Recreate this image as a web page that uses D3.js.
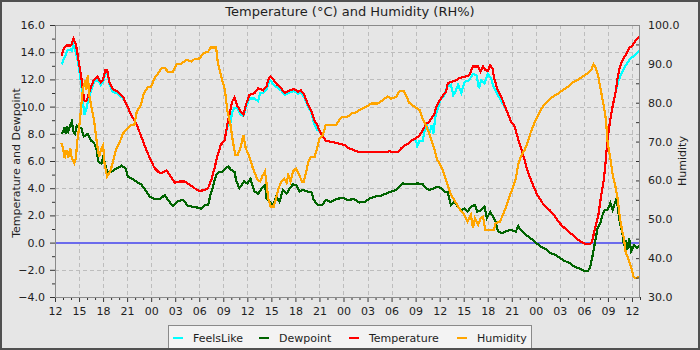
<!DOCTYPE html>
<html>
<head>
<meta charset="utf-8">
<script src="https://cdn.jsdelivr.net/npm/d3@7"></script>
<style>
  html, body { margin: 0; padding: 0; background: #e6e6e6; }
  svg { display: block; font-family: "DejaVu Sans", sans-serif; }
</style>
</head>
<body>
<svg id="chart" width="700" height="350"></svg>
<script>
// Hours are counted from 12:00 on the first day; values are [hour, reading].
const hourTicks = d3.range(0, 73, 3);
const tempTicks = d3.range(-4, 17, 2);
const humidityTicks = d3.range(30, 101, 10);
const seriesNames = ["FeelsLike", "Dewpoint", "Temperature", "Humidity"];

const temperature = [[0.8,13.75],[1.2,14.4],[1.5,14.5],[1.9,14.5],[2.1,14.6],[2.3,15.0],[2.6,14.6],[2.8,13.9],[3.1,12.8],[3.3,12.1],[3.5,11.1],[3.7,10.4],[3.9,10.4],[4.1,10.7],[4.5,11.5],[4.9,12.0],[5.3,12.2],[5.7,11.8],[6.0,12.0],[6.3,12.7],[6.5,12.7],[6.8,11.8],[7.2,11.3],[7.85,11.1],[8.5,10.7],[8.9,10.2],[9.5,9.4],[10.1,8.8],[10.7,7.9],[11.4,6.8],[12.0,6.0],[12.4,5.5],[12.9,5.2],[13.3,5.1],[13.9,5.3],[14.3,5.0],[14.95,4.4],[15.6,4.5],[16.2,4.5],[16.8,4.25],[17.4,4.0],[18.05,3.8],[18.7,3.87],[19.1,4.0],[19.5,4.6],[19.9,5.46],[20.3,6.44],[20.7,7.2],[21.15,7.5],[21.5,8.65],[21.8,9.5],[22.1,10.36],[22.4,10.66],[22.7,10.1],[23.2,9.6],[23.5,9.4],[23.8,10.1],[24.25,10.85],[24.9,11.0],[25.35,11.35],[25.97,11.2],[26.4,11.5],[26.7,12.1],[26.9,12.2],[27.3,11.95],[27.75,11.6],[28.2,11.35],[28.7,11.0],[29.3,11.2],[29.8,11.3],[30.3,11.1],[30.7,11.2],[31.1,10.85],[31.5,10.24],[31.96,9.7],[32.3,9.1],[32.7,8.65],[33.1,8.15],[33.4,7.8],[33.8,7.5],[34.4,7.42],[35.3,7.3],[36.1,7.18],[36.7,6.93],[37.3,6.8],[38.0,6.64],[41.5,6.64],[41.75,6.73],[42.2,6.64],[42.8,6.64],[43.2,6.93],[43.6,7.13],[44.1,7.3],[44.6,7.54],[45.05,7.67],[45.5,7.9],[45.9,8.28],[46.3,8.7],[46.7,8.9],[47.3,9.4],[47.65,10.1],[47.95,10.4],[48.4,10.8],[48.8,11.1],[49.0,11.7],[49.4,11.8],[49.9,11.9],[50.5,12.1],[51.1,12.2],[51.7,12.3],[52.15,12.95],[52.8,12.95],[53.1,12.6],[53.4,12.95],[53.7,12.7],[54.0,12.6],[54.3,13.05],[54.6,12.8],[54.8,12.1],[55.25,11.2],[55.7,10.7],[56.1,10.1],[56.5,9.5],[56.9,8.9],[57.3,8.65],[57.7,7.8],[58.1,7.05],[58.6,6.07],[59.0,5.2],[59.4,4.6],[59.8,4.0],[60.2,3.5],[60.6,3.13],[61.0,2.76],[61.7,2.4],[62.3,2.0],[62.8,1.54],[63.4,1.17],[64.0,0.85],[64.6,0.56],[65.2,0.24],[65.85,0.0],[66.3,-0.13],[66.7,-0.13],[67.0,0.07],[67.2,0.56],[67.5,1.3],[67.8,2.0],[68.1,3.25],[68.5,4.7],[68.75,6.2],[68.95,7.67],[69.2,8.65],[69.45,9.6],[69.7,10.36],[70.0,11.2],[70.2,12.1],[70.5,12.95],[70.8,13.4],[71.2,13.8],[71.65,14.3],[72.05,14.5],[72.5,14.9],[72.9,15.15]];

const feelsLike = [[0.8,13.1],[1.2,13.6],[1.5,14.1],[1.9,14.2],[2.1,14.1],[2.3,14.5],[2.6,14.0],[2.8,13.5],[3.1,12.4],[3.3,11.5],[3.5,10.2],[3.7,9.4],[3.9,9.8],[4.1,10.3],[4.5,11.2],[4.9,11.8],[5.3,12.0],[5.7,11.6],[6.0,11.8],[6.3,12.5],[6.5,12.5],[6.8,11.6],[7.2,11.1],[7.85,10.95],[8.5,10.6],[8.9,10.2],[9.5,9.4],[10.1,8.8],[10.7,7.9],[11.4,6.8],[12.0,6.0],[12.4,5.5],[12.9,5.2],[13.3,5.1],[13.9,5.3],[14.3,5.0],[14.95,4.4],[15.6,4.5],[16.2,4.5],[16.8,4.25],[17.4,4.0],[18.05,3.8],[18.7,3.87],[19.1,4.0],[19.5,4.6],[19.9,5.46],[20.3,6.44],[20.7,7.2],[21.15,7.5],[21.5,8.5],[21.9,8.8],[22.1,9.6],[22.4,9.9],[22.7,9.9],[23.2,9.4],[23.5,9.3],[23.8,9.9],[24.25,10.6],[24.9,10.6],[25.35,10.4],[25.6,11.0],[25.97,11.0],[26.4,11.3],[26.7,11.8],[26.9,11.9],[27.3,11.6],[27.75,11.4],[28.2,11.2],[28.7,10.85],[29.3,11.05],[29.8,11.15],[30.3,10.95],[30.7,11.05],[31.1,10.7],[31.5,10.1],[31.96,9.6],[32.3,8.8],[32.7,8.3],[33.1,8.15],[33.4,7.8],[33.8,7.5],[34.4,7.42],[35.3,7.3],[36.1,7.18],[36.7,6.93],[37.3,6.8],[38.0,6.64],[41.5,6.64],[41.75,6.73],[42.2,6.64],[42.8,6.64],[43.2,6.93],[43.6,7.13],[44.1,7.3],[44.6,7.54],[45.05,7.5],[45.2,7.1],[45.5,7.5],[45.9,7.5],[46.1,8.15],[46.4,8.6],[46.7,8.0],[47.0,8.65],[47.2,8.0],[47.5,9.4],[47.8,9.9],[48.1,10.5],[48.6,10.85],[48.9,11.45],[49.4,11.6],[49.7,10.85],[49.9,11.0],[50.3,11.6],[50.7,11.0],[51.1,11.8],[51.7,11.95],[52.15,12.4],[52.6,12.3],[52.9,11.35],[53.2,11.95],[53.6,11.7],[54.0,12.4],[54.4,12.1],[54.8,11.35],[55.25,10.85],[55.7,10.4],[56.1,10.0],[56.5,9.5],[56.9,8.9],[57.3,8.65],[57.7,7.8],[58.1,7.05],[58.6,6.07],[59.0,5.2],[59.4,4.6],[59.8,4.0],[60.2,3.5],[60.6,3.13],[61.0,2.76],[61.7,2.4],[62.3,2.0],[62.8,1.54],[63.4,1.17],[64.0,0.85],[64.6,0.56],[65.2,0.24],[65.85,0.0],[66.3,-0.13],[66.7,-0.13],[67.0,0.07],[67.2,0.56],[67.5,1.3],[67.8,2.0],[68.1,3.25],[68.5,4.7],[68.75,6.2],[68.95,7.67],[69.2,8.65],[69.45,9.6],[69.7,10.36],[70.0,11.2],[70.3,11.9],[70.6,12.3],[71.0,12.8],[71.4,13.2],[71.8,13.55],[72.25,13.7],[72.9,14.1]];

const dewpoint = [[0.8,8.0],[1.0,8.15],[1.2,8.5],[1.35,8.0],[1.5,8.4],[1.65,8.15],[1.9,8.6],[2.1,8.9],[2.3,8.15],[2.5,8.0],[2.7,8.6],[2.9,8.5],[3.3,8.4],[3.6,7.8],[4.1,8.0],[4.5,7.5],[4.9,7.3],[5.2,6.8],[5.4,5.95],[5.8,5.8],[6.0,6.25],[6.2,5.95],[6.5,5.2],[7.0,5.2],[7.4,5.35],[7.85,5.5],[8.3,5.65],[8.8,5.45],[9.1,4.85],[9.6,4.7],[10.1,4.5],[10.8,4.25],[11.2,3.95],[11.8,3.4],[12.4,3.2],[13.1,3.2],[13.7,3.5],[14.1,3.13],[14.7,2.7],[15.4,3.06],[16.0,3.13],[16.6,2.7],[17.2,2.64],[17.8,2.57],[18.25,2.5],[18.7,2.76],[19.1,2.76],[19.4,3.5],[19.7,4.1],[20.1,4.97],[20.5,5.2],[20.9,5.2],[21.35,5.5],[21.6,5.6],[22.0,5.34],[22.4,5.2],[22.6,4.6],[23.0,4.0],[23.3,4.24],[23.6,4.5],[24.0,4.36],[24.4,4.68],[24.9,3.75],[25.35,3.6],[25.8,4.0],[26.2,4.25],[26.4,3.25],[26.8,3.0],[27.2,2.76],[27.6,3.38],[28.0,3.0],[28.45,3.87],[28.9,3.6],[29.3,4.0],[29.7,4.28],[30.1,4.24],[30.5,3.75],[30.9,3.87],[31.5,3.75],[31.96,3.75],[32.3,3.13],[32.8,2.76],[33.4,2.8],[33.8,3.13],[34.4,3.0],[35.1,3.2],[35.9,3.3],[36.5,3.13],[37.3,3.2],[38.0,2.95],[38.65,3.0],[39.3,3.25],[39.9,3.38],[40.7,3.45],[41.3,3.6],[41.95,3.75],[42.6,3.87],[43.0,4.1],[43.4,4.36],[44.0,4.28],[44.6,4.28],[45.3,4.36],[45.9,4.28],[46.3,4.0],[46.7,3.87],[47.3,4.0],[47.7,4.1],[48.2,4.0],[48.6,3.75],[49.0,3.75],[49.4,2.76],[49.8,3.0],[50.3,2.64],[50.7,2.4],[51.1,2.5],[51.5,2.3],[51.95,2.64],[52.4,2.76],[52.7,2.27],[53.2,2.4],[53.6,2.64],[53.9,1.8],[54.3,2.27],[54.75,1.8],[55.0,1.54],[55.25,0.85],[55.7,0.68],[56.3,0.85],[56.9,0.93],[57.5,0.8],[57.8,1.22],[58.1,0.93],[58.8,0.56],[59.4,0.3],[60.0,0.0],[60.6,-0.3],[61.2,-0.47],[61.9,-0.8],[62.35,-0.86],[62.95,-1.1],[63.6,-1.35],[64.2,-1.5],[64.8,-1.77],[65.45,-1.9],[66.1,-2.1],[66.5,-2.1],[66.8,-1.77],[67.1,-0.9],[67.4,0.07],[67.7,1.05],[68.05,1.4],[68.3,2.0],[68.6,2.4],[68.95,2.4],[69.3,2.9],[69.6,2.4],[69.9,3.0],[70.1,3.25],[70.3,2.27],[70.5,1.4],[70.8,0.68],[71.0,-0.2],[71.2,0.2],[71.4,-0.55],[71.65,0.3],[71.9,-0.65],[72.25,-0.2],[72.6,-0.4],[72.9,-0.2]];

const humidity = [[0.8,69.6],[1.0,68.5],[1.2,65.7],[1.45,67.8],[1.65,65.7],[1.9,68.3],[2.1,65.7],[2.4,64.4],[2.6,65.7],[2.8,70.4],[3.1,75.1],[3.3,79.8],[3.5,83.7],[3.8,85.8],[3.9,83.3],[4.1,87.1],[4.3,81.6],[4.5,79.4],[4.9,75.1],[5.2,70.0],[5.5,66.1],[5.8,68.3],[6.0,69.1],[6.2,64.0],[6.5,61.0],[6.9,62.3],[7.4,66.1],[7.6,67.8],[8.1,70.0],[8.5,72.1],[8.9,73.0],[9.5,74.3],[9.9,74.3],[10.2,77.7],[10.7,79.4],[11.1,82.4],[11.6,84.1],[12.0,84.1],[12.4,86.3],[12.9,87.6],[13.3,88.9],[13.7,88.9],[14.1,88.0],[14.7,88.0],[15.2,89.9],[15.8,90.1],[16.4,91.0],[17.0,90.6],[17.4,91.2],[18.05,91.4],[18.5,92.7],[19.1,93.1],[19.4,94.2],[20.1,94.2],[20.3,90.6],[20.7,87.1],[21.2,83.3],[21.5,78.1],[21.9,74.3],[22.2,70.0],[22.5,66.6],[22.8,66.6],[23.2,68.7],[23.5,71.7],[23.8,68.3],[24.25,66.1],[24.7,63.1],[24.94,61.8],[25.3,60.1],[25.6,59.7],[25.85,61.0],[26.2,62.3],[26.4,59.3],[26.6,55.4],[26.9,53.3],[27.3,53.3],[27.6,55.4],[27.9,58.0],[28.25,59.7],[28.6,60.5],[28.9,59.3],[29.1,61.4],[29.4,59.7],[29.7,62.3],[30.1,63.1],[30.5,61.4],[30.8,59.7],[31.05,59.7],[31.3,61.8],[31.6,64.8],[31.96,66.1],[32.4,66.1],[32.7,68.3],[33.0,70.8],[33.4,71.7],[33.8,74.3],[35.1,74.3],[35.5,75.6],[35.9,76.4],[36.5,76.4],[37.1,77.3],[37.4,77.3],[38.0,78.1],[38.85,79.0],[39.5,79.8],[40.3,79.8],[41.1,81.0],[41.5,81.6],[41.95,81.0],[42.6,81.6],[43.0,83.0],[43.5,83.0],[43.8,82.0],[44.2,80.0],[44.85,79.0],[45.5,78.1],[45.9,75.6],[46.3,74.3],[46.9,70.8],[47.3,68.3],[47.7,65.3],[48.2,63.6],[48.6,61.4],[49.0,58.8],[49.4,56.3],[49.8,55.0],[50.3,53.3],[50.7,52.0],[51.1,51.1],[51.5,49.4],[51.9,51.1],[52.15,47.7],[52.4,50.3],[52.8,48.5],[53.1,50.3],[53.4,50.7],[53.7,47.3],[54.75,47.3],[55.0,49.0],[55.5,49.4],[55.9,51.1],[56.3,53.3],[56.7,55.8],[57.1,58.0],[57.5,60.5],[57.8,64.0],[58.1,66.1],[58.6,67.8],[59.0,70.0],[59.4,72.6],[59.8,74.7],[60.2,76.4],[60.6,78.1],[61.0,79.4],[61.45,80.3],[61.9,81.3],[62.35,81.8],[62.8,82.4],[63.4,83.3],[64.0,84.1],[64.6,85.2],[65.2,85.8],[65.85,86.7],[66.5,87.6],[66.9,88.4],[67.2,89.9],[67.5,88.9],[67.8,86.7],[68.1,83.3],[68.5,79.0],[68.75,75.6],[68.95,70.0],[69.3,65.7],[69.6,61.4],[69.9,58.8],[70.2,55.4],[70.5,50.3],[70.8,46.8],[71.0,45.1],[71.2,41.7],[71.5,40.0],[71.8,38.3],[72.2,35.3],[72.5,34.8],[72.9,35.3]];

const colors = { FeelsLike: "#00ffff", Dewpoint: "#006400", Temperature: "#ff0000", Humidity: "#ffa500" };

const W = 700, H = 350;
const plot = { left: 55, right: 640, top: 25, bottom: 297 };

const svg = d3.select("#chart");

// page background and dark frame
svg.append("rect").attr("x", 1).attr("y", 1).attr("width", W - 2).attr("height", H - 2)
  .attr("fill", "#e6e6e6").attr("stroke", "#505050").attr("stroke-width", 2);

const x = d3.scaleLinear().domain([0, 73]).range([plot.left, plot.right]);
const yT = d3.scaleLinear().domain([-4, 16]).range([plot.bottom, plot.top]);
const yH = d3.scaleLinear().domain([30, 100]).range([plot.bottom, plot.top]);

// dashed grid
const grid = svg.append("g").attr("stroke", "#bdbdbd").attr("stroke-width", 1)
  .attr("stroke-dasharray", "4,3").attr("shape-rendering", "crispEdges");
grid.selectAll("line.v").data(hourTicks.filter(h => h > 0)).join("line")
  .attr("x1", d => Math.round(x(d)) + 0.5).attr("x2", d => Math.round(x(d)) + 0.5)
  .attr("y1", plot.top).attr("y2", plot.bottom);
grid.selectAll("line.h").data(tempTicks.filter(t => t > -4 && t < 16)).join("line")
  .attr("y1", d => Math.round(yT(d)) + 0.5).attr("y2", d => Math.round(yT(d)) + 0.5)
  .attr("x1", plot.left).attr("x2", plot.right);

// zero reference line
svg.append("line")
  .attr("x1", plot.left).attr("x2", plot.right)
  .attr("y1", yT(0)).attr("y2", yT(0))
  .attr("stroke", "#6b6bec").attr("stroke-width", 2)
  .attr("shape-rendering", "crispEdges");

// series
svg.append("clipPath").attr("id", "clip").append("rect")
  .attr("x", plot.left).attr("y", plot.top)
  .attr("width", plot.right - plot.left).attr("height", plot.bottom - plot.top);

const lineT = d3.line().x(d => x(d[0])).y(d => yT(d[1]));
const lineH = d3.line().x(d => x(d[0])).y(d => yH(d[1]));
const seriesData = [
  ["FeelsLike", feelsLike, lineT],
  ["Dewpoint", dewpoint, lineT],
  ["Temperature", temperature, lineT],
  ["Humidity", humidity, lineH]
];
const lines = svg.append("g").attr("clip-path", "url(#clip)");
seriesData.forEach(([name, data, gen]) => {
  lines.append("path").datum(data)
    .attr("d", gen)
    .attr("fill", "none")
    .attr("stroke", colors[name])
    .attr("stroke-width", 2.2)
    .attr("stroke-linejoin", "miter")
    .attr("shape-rendering", "crispEdges");
});

// axes
const axisColor = "#8a8a8a";
const textColor = "#1e1e1e";
function styleAxis(g) {
  g.select(".domain").remove();
  g.selectAll(".tick line").attr("stroke", "#333");
  g.selectAll("text").attr("fill", textColor).attr("font-size", 11)
    .attr("font-family", "DejaVu Sans, sans-serif");
}

const hourFmt = h => String((12 + h) % 24).padStart(2, "0");
svg.append("g").attr("transform", `translate(0,${plot.bottom})`)
  .call(d3.axisBottom(x).tickValues(hourTicks).tickFormat(hourFmt).tickSize(5).tickPadding(5))
  .call(styleAxis);
svg.append("g").attr("transform", `translate(0,${plot.bottom})`)
  .call(d3.axisBottom(x).tickValues(d3.range(0, 74, 1).filter(h => h % 3 !== 0)).tickFormat("").tickSize(3))
  .call(styleAxis);

svg.append("g").attr("transform", `translate(${plot.left},0)`)
  .call(d3.axisLeft(yT).tickValues(tempTicks).tickFormat(d3.format(".1f")).tickSize(5).tickPadding(5))
  .call(styleAxis);
svg.append("g").attr("transform", `translate(${plot.left},0)`)
  .call(d3.axisLeft(yT).tickValues(d3.range(-3, 16, 2)).tickFormat("").tickSize(3))
  .call(styleAxis);

svg.append("g").attr("transform", `translate(${plot.right},0)`)
  .call(d3.axisRight(yH).tickValues(humidityTicks).tickFormat(d3.format(".1f")).tickSize(0).tickPadding(8))
  .call(styleAxis);
svg.append("g").attr("transform", `translate(${plot.right},0)`)
  .call(d3.axisLeft(yH).tickValues(d3.range(35, 100, 5)).tickFormat("").tickSize(4))
  .call(styleAxis);

// plot border
svg.append("rect")
  .attr("x", plot.left + 0.5).attr("y", plot.top + 0.5)
  .attr("width", plot.right - plot.left - 1).attr("height", plot.bottom - plot.top)
  .attr("fill", "none").attr("stroke", axisColor).attr("stroke-width", 1);

// titles
svg.append("text").attr("x", 350).attr("y", 16).attr("text-anchor", "middle")
  .attr("font-size", 13).attr("fill", textColor)
  .text("Temperature (°C) and Humidity (RH%)");
svg.append("text").attr("transform", "translate(20,163) rotate(-90)")
  .attr("text-anchor", "middle").attr("font-size", 11).attr("fill", textColor)
  .text("Temperature and Dewpoint");
svg.append("text").attr("transform", "translate(686,161) rotate(-90)")
  .attr("text-anchor", "middle").attr("font-size", 11).attr("fill", textColor)
  .text("Humidity");

// legend
const legend = svg.append("g");
legend.append("rect").attr("x", 168.5).attr("y", 325.5).attr("width", 363).attr("height", 24)
  .attr("fill", "#f3f3f3").attr("stroke", "#8a8a8a");
const legendX = [173, 259, 349, 457];
seriesNames.forEach((name, i) => {
  legend.append("line")
    .attr("x1", legendX[i]).attr("x2", legendX[i] + 10)
    .attr("y1", 338).attr("y2", 338)
    .attr("stroke", colors[name]).attr("stroke-width", 2);
  legend.append("text")
    .attr("x", legendX[i] + 20).attr("y", 341.5)
    .attr("font-size", 11).attr("fill", textColor)
    .text(name);
});

// redraw frame edge over the legend box
svg.append("rect").attr("x", 1).attr("y", 1).attr("width", W - 2).attr("height", H - 2)
  .attr("fill", "none").attr("stroke", "#505050").attr("stroke-width", 2);
</script>
</body>
</html>
